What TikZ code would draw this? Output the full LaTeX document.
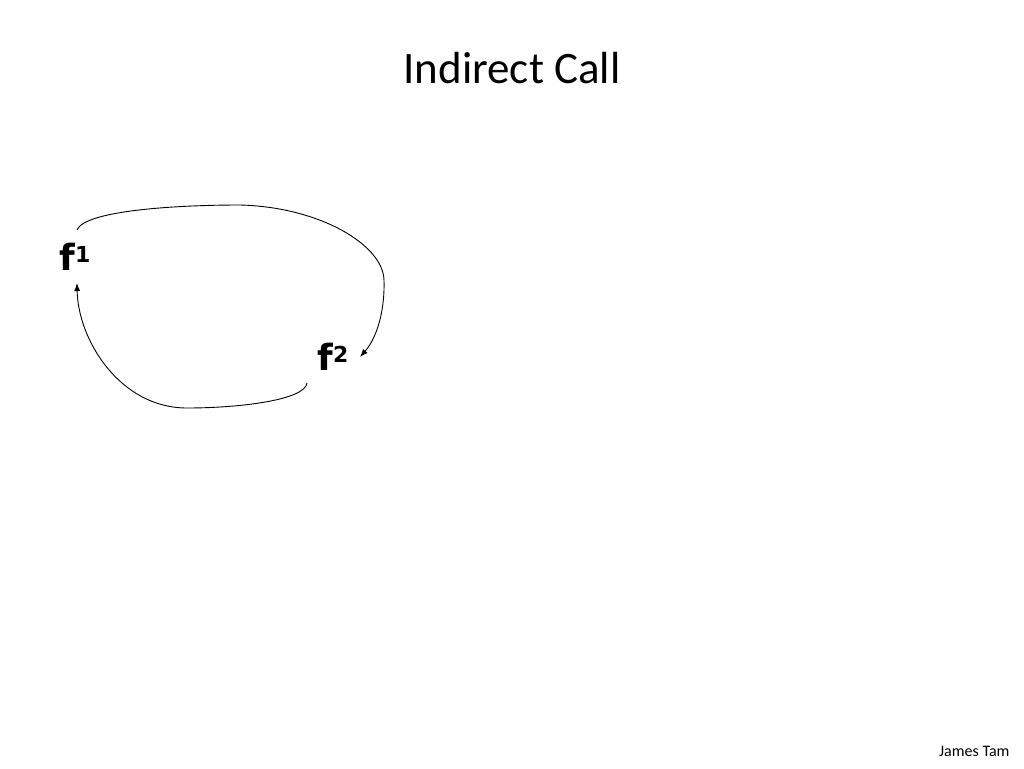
\documentclass[tikz,border=0pt]{standalone}
\usepackage{fontspec}
\setmainfont{Carlito}
\newfontfamily\vfont{DejaVu Sans}
\usetikzlibrary{arrows.meta}
\begin{document}
\begin{tikzpicture}[x=1pt,y=-1pt,
  lbl/.style={font=\vfont\bfseries\fontsize{36}{36}\selectfont, inner sep=0pt},
  conn/.style={line width=0.9pt, -{Latex[length=8pt,width=6pt]}}]
\useasboundingbox[fill=white] (0,0) rectangle (1024,768);
\node[font=\fontsize{45}{54}\selectfont] (title) at (512,68) {Indirect Call};
\node[font=\fontsize{16}{18}\selectfont, anchor=east] (author) at (1013,751) {James Tam};
\node[lbl] (f1) at (75,257) {f\raisebox{8pt}{\fontsize{22}{22}\selectfont 1}};
\node[lbl] (f2) at (333,357) {f\raisebox{8pt}{\fontsize{22}{22}\selectfont 2}};
\coordinate (s1) at (77,230);
\coordinate (e1) at (360,357);
\coordinate (s2) at (307,383);
\coordinate (e2) at (77,283);
\draw[conn] (s1) .. controls (85,210) and (180,205) .. (240,205)
  .. controls (320,207) and (383,245) .. (384,280)
  .. controls (385,315) and (375,340) .. (e1);
\draw[conn] (s2) .. controls (305,400) and (240,408) .. (187,408)
  .. controls (120,408) and (78,340) .. (e2);
\end{tikzpicture}
\end{document}
